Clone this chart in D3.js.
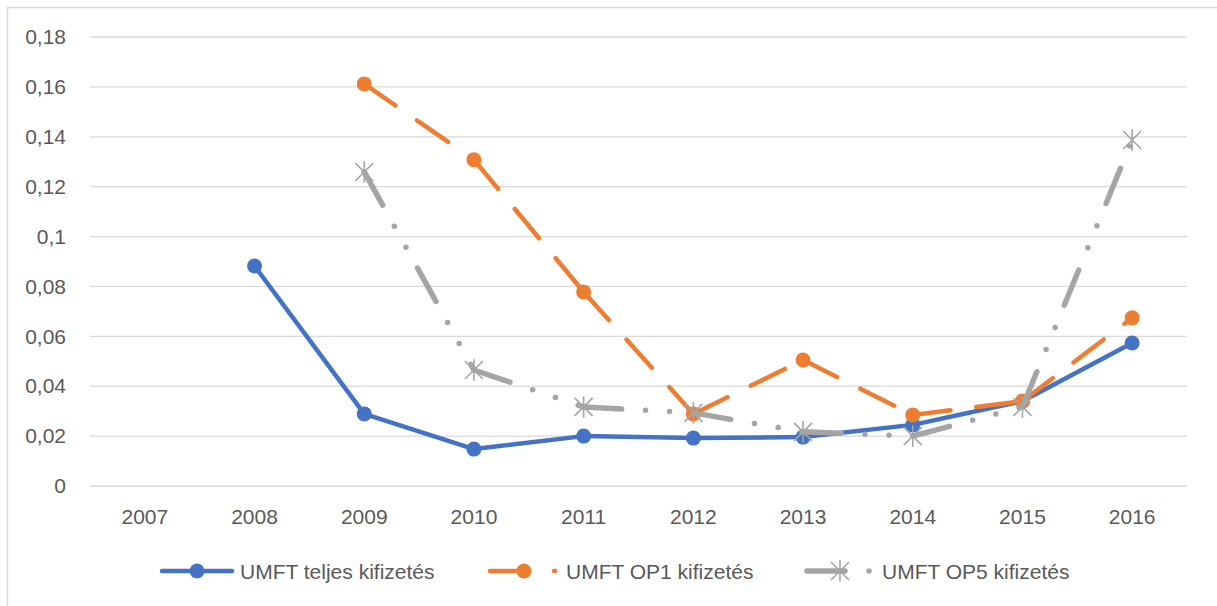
<!DOCTYPE html>
<html>
<head>
<meta charset="utf-8">
<script src="https://cdn.jsdelivr.net/npm/d3@7"></script>
<style>
  body { margin: 0; background: #fff; }
  text { font-family: "Liberation Sans", Arial, sans-serif; fill: #595959; }
</style>
</head>
<body>
<div id="svg-container"></div>
<script>
// data
var years = ["2007","2008","2009","2010","2011","2012","2013","2014","2015","2016"];
var teljes = [null, 0.0882, 0.0289, 0.0148, 0.0200, 0.0192, 0.0196, 0.0245, 0.0340, 0.0573];
var op1    = [null, null, 0.1612, 0.1308, 0.0778, 0.0289, 0.0505, 0.0285, 0.0340, 0.0674];
var op5    = [null, null, 0.1259, 0.0465, 0.0317, 0.0293, 0.0217, 0.0200, 0.0317, 0.1387];
var yTicks = [0, 0.02, 0.04, 0.06, 0.08, 0.1, 0.12, 0.14, 0.16, 0.18];
var seriesNames = ["UMFT teljes kifizetés", "UMFT OP1 kifizetés", "UMFT OP5 kifizetés"];

var W = 1217, H = 606;
var svg = d3.select("#svg-container").append("svg").attr("width", W).attr("height", H);

// chart border
svg.append("rect").attr("x", 7.5).attr("y", 7.5).attr("width", 1220).attr("height", 620)
  .attr("fill", "none").attr("stroke", "#d9d9d9").attr("stroke-width", 1.5);

var x = d3.scaleBand().domain(years).range([90, 1187]);
var y = d3.scaleLinear().domain([0, 0.18]).range([486, 37]);
var fmt = function(d){ return String(d).replace(".", ","); };

// gridlines
svg.append("g").selectAll("line").data(yTicks).enter().append("line")
  .attr("x1", 90).attr("x2", 1187)
  .attr("y1", function(d){ return y(d); }).attr("y2", function(d){ return y(d); })
  .attr("stroke", "#d9d9d9").attr("stroke-width", 1.3);

// y axis labels
var yAxis = d3.axisLeft(y).tickValues(yTicks).tickFormat(fmt).tickSize(0).tickPadding(0);
var gy = svg.append("g").attr("transform", "translate(66,0)").call(yAxis);
gy.select(".domain").remove();
gy.selectAll("text").attr("font-size", 21).attr("fill", "#595959")
  .attr("font-family", "Liberation Sans, Arial, sans-serif");

// x axis labels
var xAxis = d3.axisBottom(x).tickSize(0).tickPadding(0);
var gx = svg.append("g").attr("transform", "translate(0,509)").call(xAxis);
gx.select(".domain").remove();
gx.selectAll("text").attr("font-size", 21).attr("fill", "#595959")
  .attr("font-family", "Liberation Sans, Arial, sans-serif");

var styles = [
  { vals: teljes, color: "#4472c4", dash: null, marker: "circle", w: 4.5 },
  { vals: op1, color: "#ed7d31", dash: "38,26", marker: "circle", w: 4.5 },
  { vals: op5, color: "#a5a5a5", dash: "38,24,0,24,0,24", marker: "star", w: 5.5 }
];

var line = d3.line().x(function(d){ return d[0]; }).y(function(d){ return d[1]; });

function drawMarker(g, type, cx, cy, color) {
  if (type === "circle") {
    g.append("circle").attr("cx", cx).attr("cy", cy).attr("r", 7.5).attr("fill", color);
  } else {
    var s = 9;
    var p = "M" + (cx - s) + "," + (cy - s) + "L" + (cx + s) + "," + (cy + s) +
            "M" + (cx - s) + "," + (cy + s) + "L" + (cx + s) + "," + (cy - s) +
            "M" + cx + "," + (cy - s * 1.2) + "L" + cx + "," + (cy + s * 1.2);
    g.append("path").attr("d", p).attr("stroke", color).attr("stroke-width", 1.6).attr("fill", "none");
  }
}

styles.forEach(function(st){
  var g = svg.append("g");
  var pts = [];
  st.vals.forEach(function(v, i){
    if (v !== null) pts.push([x(years[i]) + x.bandwidth() / 2, y(v)]);
  });
  // each segment separately so the dash pattern restarts at every point
  for (var i = 0; i < pts.length - 1; i++) {
    var p = g.append("path").attr("d", line([pts[i], pts[i + 1]]))
      .attr("fill", "none").attr("stroke", st.color).attr("stroke-width", st.w)
      .attr("stroke-linecap", "round");
    if (st.dash) p.attr("stroke-dasharray", st.dash);
  }
  pts.forEach(function(p){ drawMarker(g, st.marker, p[0], p[1], st.color); });
});

// legend
var legX = [162, 490, 807];
var legLen = [70, 65, 63];
var legY = 571;
styles.forEach(function(st, i){
  var g = svg.append("g");
  var x0 = legX[i], x1 = legX[i] + legLen[i];
  var p = g.append("path").attr("d", line([[x0, legY], [x1, legY]]))
    .attr("fill", "none").attr("stroke", st.color).attr("stroke-width", st.w)
    .attr("stroke-linecap", "round");
  if (st.dash) p.attr("stroke-dasharray", st.dash);
  drawMarker(g, st.marker, [197, 524, 840][i], legY, st.color);
  g.append("text").attr("x", [240, 566, 882][i]).attr("y", legY + 7.5)
    .attr("font-size", 21).text(seriesNames[i]);
});
</script>
</body>
</html>
